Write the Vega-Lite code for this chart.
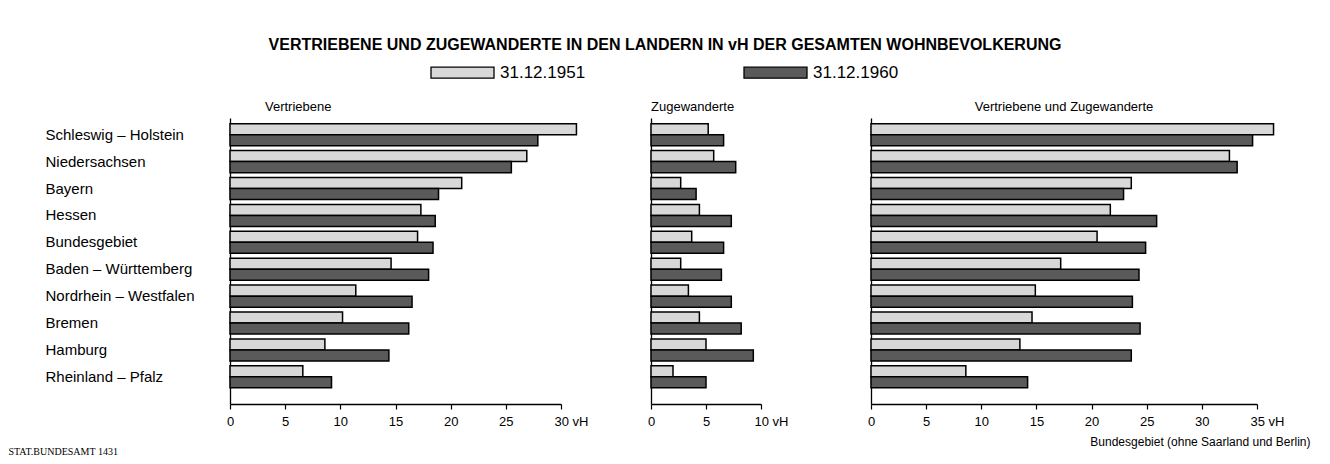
{
  "$schema": "https://vega.github.io/schema/vega-lite/v6.json",
  "padding": {"left": 8, "top": 37, "right": 8, "bottom": 4},
  "background": "white",
  "title": {
    "text": "VERTRIEBENE UND ZUGEWANDERTE IN DEN LANDERN IN vH DER GESAMTEN WOHNBEVOLKERUNG",
    "font": "Liberation Sans",
    "fontSize": 16,
    "fontWeight": "bold",
    "color": "black",
    "anchor": "middle",
    "dx": 6,
    "offset": -13
  },
  "data": {
    "values": [
      {"land": "Schleswig – Holstein", "stichtag": "31.12.1951", "vertriebene": 31.4, "zugewanderte": 5.2, "gesamt": 36.5},
      {"land": "Schleswig – Holstein", "stichtag": "31.12.1960", "vertriebene": 27.9, "zugewanderte": 6.6, "gesamt": 34.6},
      {"land": "Niedersachsen", "stichtag": "31.12.1951", "vertriebene": 26.9, "zugewanderte": 5.7, "gesamt": 32.5},
      {"land": "Niedersachsen", "stichtag": "31.12.1960", "vertriebene": 25.5, "zugewanderte": 7.7, "gesamt": 33.2},
      {"land": "Bayern", "stichtag": "31.12.1951", "vertriebene": 21.0, "zugewanderte": 2.7, "gesamt": 23.6},
      {"land": "Bayern", "stichtag": "31.12.1960", "vertriebene": 18.9, "zugewanderte": 4.1, "gesamt": 22.9},
      {"land": "Hessen", "stichtag": "31.12.1951", "vertriebene": 17.3, "zugewanderte": 4.4, "gesamt": 21.7},
      {"land": "Hessen", "stichtag": "31.12.1960", "vertriebene": 18.6, "zugewanderte": 7.3, "gesamt": 25.9},
      {"land": "Bundesgebiet", "stichtag": "31.12.1951", "vertriebene": 17.0, "zugewanderte": 3.7, "gesamt": 20.5},
      {"land": "Bundesgebiet", "stichtag": "31.12.1960", "vertriebene": 18.4, "zugewanderte": 6.6, "gesamt": 24.9},
      {"land": "Baden – Württemberg", "stichtag": "31.12.1951", "vertriebene": 14.6, "zugewanderte": 2.7, "gesamt": 17.2},
      {"land": "Baden – Württemberg", "stichtag": "31.12.1960", "vertriebene": 18.0, "zugewanderte": 6.4, "gesamt": 24.3},
      {"land": "Nordrhein – Westfalen", "stichtag": "31.12.1951", "vertriebene": 11.4, "zugewanderte": 3.4, "gesamt": 14.9},
      {"land": "Nordrhein – Westfalen", "stichtag": "31.12.1960", "vertriebene": 16.5, "zugewanderte": 7.3, "gesamt": 23.7},
      {"land": "Bremen", "stichtag": "31.12.1951", "vertriebene": 10.2, "zugewanderte": 4.4, "gesamt": 14.6},
      {"land": "Bremen", "stichtag": "31.12.1960", "vertriebene": 16.2, "zugewanderte": 8.2, "gesamt": 24.4},
      {"land": "Hamburg", "stichtag": "31.12.1951", "vertriebene": 8.6, "zugewanderte": 5.0, "gesamt": 13.5},
      {"land": "Hamburg", "stichtag": "31.12.1960", "vertriebene": 14.4, "zugewanderte": 9.3, "gesamt": 23.6},
      {"land": "Rheinland – Pfalz", "stichtag": "31.12.1951", "vertriebene": 6.6, "zugewanderte": 2.0, "gesamt": 8.6},
      {"land": "Rheinland – Pfalz", "stichtag": "31.12.1960", "vertriebene": 9.2, "zugewanderte": 5.0, "gesamt": 14.2}
    ]
  },
  "spacing": 59,
  "resolve": {"scale": {"color": "shared", "x": "independent"}},
  "hconcat": [
    {
      "width": 331,
      "height": 286,
      "title": {"text": "Vertriebene", "anchor": "start", "frame": "group", "dx": 35},
      "mark": {"type": "bar", "stroke": "black", "strokeWidth": 1.5},
      "encoding": {
        "y": {
          "field": "land", "type": "nominal",
          "sort": ["Schleswig – Holstein", "Niedersachsen", "Bayern", "Hessen", "Bundesgebiet", "Baden – Württemberg", "Nordrhein – Westfalen", "Bremen", "Hamburg", "Rheinland – Pfalz"],
          "scale": {"paddingInner": 0.18, "paddingOuter": 0.405, "align": 0.26},
          "axis": {"title": null, "ticks": false, "labelAlign": "left", "labelPadding": 185, "labelFontSize": 15, "labelLimit": 0, "labelBaseline": "middle", "labelDy": 2}
        },
        "yOffset": {"field": "stichtag", "type": "nominal", "sort": ["31.12.1951", "31.12.1960"], "scale": {"paddingInner": 0, "paddingOuter": 0}},
        "x": {
          "field": "vertriebene", "type": "quantitative",
          "scale": {"domain": [0, 30], "nice": false},
          "axis": {
            "values": [0, 5, 10, 15, 20, 25, 30],
            "labelExpr": "datum.value == 30 ? '30 vH' : datum.label",
            "labelAlign": {"condition": {"test": "datum.value == 30", "value": "left"}, "value": "center"},
            "labelOffset": {"condition": {"test": "datum.value == 30", "value": -7}, "value": 0},
            "title": "STAT.BUNDESAMT 1431",
            "titleX": -222, "titleY": 50, "titleAlign": "left", "titleBaseline": "alphabetic",
            "titleFont": "Liberation Serif", "titleFontSize": 10, "titleFontWeight": "normal"
          }
        },
        "color": {
          "field": "stichtag", "type": "nominal",
          "scale": {"domain": ["31.12.1951", "31.12.1960"], "range": ["#d8d8d8", "#5a5a5a"]},
          "legend": {"orient": "none", "direction": "horizontal", "legendX": 200, "legendY": -78, "title": null}
        }
      }
    },
    {
      "spacing": 79,
      "resolve": {"scale": {"color": "shared", "x": "independent"}},
      "hconcat": [
        {
          "width": 110,
          "height": 286,
          "title": {"text": "Zugewanderte", "anchor": "start", "frame": "group"},
          "mark": {"type": "bar", "stroke": "black", "strokeWidth": 1.5},
          "encoding": {
            "y": {
              "field": "land", "type": "nominal",
              "sort": ["Schleswig – Holstein", "Niedersachsen", "Bayern", "Hessen", "Bundesgebiet", "Baden – Württemberg", "Nordrhein – Westfalen", "Bremen", "Hamburg", "Rheinland – Pfalz"],
              "scale": {"paddingInner": 0.18, "paddingOuter": 0.405, "align": 0.26},
              "axis": {"title": null, "ticks": false, "labels": false}
            },
            "yOffset": {"field": "stichtag", "type": "nominal", "sort": ["31.12.1951", "31.12.1960"], "scale": {"paddingInner": 0, "paddingOuter": 0}},
            "x": {
              "field": "zugewanderte", "type": "quantitative",
              "scale": {"domain": [0, 10], "nice": false},
              "axis": {
                "values": [0, 5, 10],
                "labelExpr": "datum.value == 10 ? '10 vH' : datum.label",
                "labelAlign": {"condition": {"test": "datum.value == 10", "value": "left"}, "value": "center"},
                "labelOffset": {"condition": {"test": "datum.value == 10", "value": -7}, "value": 0},
                "title": null
              }
            },
            "color": {
              "field": "stichtag", "type": "nominal",
              "scale": {"domain": ["31.12.1951", "31.12.1960"], "range": ["#d8d8d8", "#5a5a5a"]},
              "legend": {"orient": "none", "direction": "horizontal", "legendX": 200, "legendY": -78, "title": null}
            }
          }
        },
        {
          "width": 386,
          "height": 286,
          "title": {"text": "Vertriebene und Zugewanderte", "anchor": "middle", "frame": "group"},
          "mark": {"type": "bar", "stroke": "black", "strokeWidth": 1.5},
          "encoding": {
            "y": {
              "field": "land", "type": "nominal",
              "sort": ["Schleswig – Holstein", "Niedersachsen", "Bayern", "Hessen", "Bundesgebiet", "Baden – Württemberg", "Nordrhein – Westfalen", "Bremen", "Hamburg", "Rheinland – Pfalz"],
              "scale": {"paddingInner": 0.18, "paddingOuter": 0.405, "align": 0.26},
              "axis": {"title": null, "ticks": false, "labels": false}
            },
            "yOffset": {"field": "stichtag", "type": "nominal", "sort": ["31.12.1951", "31.12.1960"], "scale": {"paddingInner": 0, "paddingOuter": 0}},
            "x": {
              "field": "gesamt", "type": "quantitative",
              "scale": {"domain": [0, 35], "nice": false},
              "axis": {
                "values": [0, 5, 10, 15, 20, 25, 30, 35],
                "labelExpr": "datum.value == 35 ? '35 vH' : datum.label",
                "labelAlign": {"condition": {"test": "datum.value == 35", "value": "left"}, "value": "center"},
                "labelOffset": {"condition": {"test": "datum.value == 35", "value": -7}, "value": 0},
                "title": "Bundesgebiet (ohne Saarland und Berlin)",
                "titleX": 439, "titleY": 41, "titleAlign": "right", "titleBaseline": "alphabetic",
                "titleFontSize": 12, "titleFontWeight": "normal"
              }
            },
            "color": {
              "field": "stichtag", "type": "nominal",
              "scale": {"domain": ["31.12.1951", "31.12.1960"], "range": ["#d8d8d8", "#5a5a5a"]},
              "legend": {"orient": "none", "direction": "horizontal", "legendX": 200, "legendY": -78, "title": null}
            }
          }
        }
      ]
    }
  ],
  "config": {
    "font": "Liberation Sans",
    "view": {"stroke": null},
    "title": {"fontSize": 13, "fontWeight": "normal", "color": "black", "offset": 4},
    "axis": {
      "grid": false,
      "domainColor": "black",
      "domainWidth": 1.3,
      "tickColor": "black",
      "tickWidth": 1.2,
      "tickSize": 5,
      "labelColor": "black",
      "labelFontSize": 13,
      "labelPadding": 6,
      "labelFlush": false,
      "labelOverlap": false,
      "titleColor": "black"
    },
    "legend": {
      "symbolType": "M-1,-0.175H1V0.175H-1Z",
      "symbolSize": 3969,
      "symbolStrokeColor": "black",
      "symbolStrokeWidth": 1.3,
      "symbolOpacity": 1,
      "labelFontSize": 17,
      "labelColor": "black",
      "labelOffset": 5,
      "columnPadding": 155,
      "padding": 0
    }
  }
}
